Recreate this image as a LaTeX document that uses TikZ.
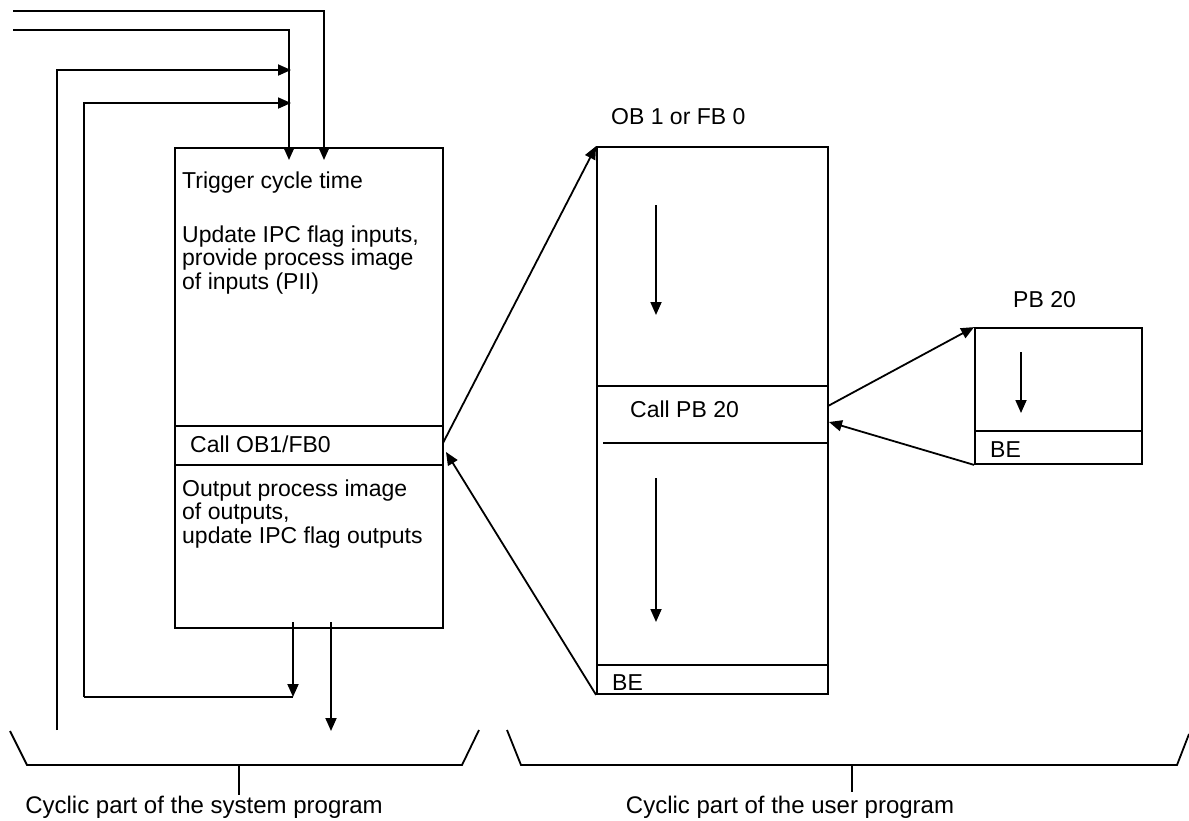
\documentclass[tikz,border=0pt]{standalone}
\usepackage{fontspec}
\setmainfont{Liberation Sans}
\usetikzlibrary{arrows.meta}
\begin{document}
\begin{tikzpicture}[x=1pt,y=-1pt,
  ln/.style={line width=1.8pt},
  arr/.style={line width=1.8pt,-{Triangle[length=13pt,width=11pt]}},
  box/.style={draw,line width=1.8pt,inner sep=0pt,rectangle},
  txt/.style={anchor=base west,inner sep=0pt,font=\fontsize{23}{24}\selectfont},
  lbl/.style={anchor=base,inner sep=0pt,font=\fontsize{24}{25}\selectfont}]
\useasboundingbox (0,0) rectangle (1189,820);

% system program box
\node[box,minimum width=268pt,minimum height=480pt] (sys) at (309,388) {};
\node[box,minimum width=268pt,minimum height=39pt] (call) at (309,445.5) {};
\node[txt] (t1) at (182,188) {Trigger cycle time};
\node[txt] (t2) at (182,242) {Update IPC flag inputs,};
\node[txt] (t3) at (182,265.5) {provide process image};
\node[txt] (t4) at (182,289) {of inputs (PII)};
\node[txt] (t5) at (190,452) {Call OB1/FB0};
\node[txt] (t6) at (182,496) {Output process image};
\node[txt] (t7) at (182,519.5) {of outputs,};
\node[txt] (t8) at (182,543) {update IPC flag outputs};

% user program box OB1
\node[box,minimum width=231pt,minimum height=547pt] (user) at (712.5,420.5) {};
\coordinate (uc1) at (597,386);
\coordinate (uc2) at (828,386);
\coordinate (uc3) at (603,443);
\coordinate (uc4) at (828,443);
\coordinate (ub1) at (597,665);
\coordinate (ub2) at (828,665);
\draw[ln] (uc1) -- (uc2);
\draw[ln] (uc3) -- (uc4);
\draw[ln] (ub1) -- (ub2);
\node[txt] (ob) at (611,124) {OB 1 or FB 0};
\node[txt] (cpb) at (630,417) {Call PB 20};
\node[txt] (be1) at (612,690) {BE};
\coordinate (ua1) at (656,205);
\coordinate (ua2) at (656,315);
\coordinate (ua3) at (656,478);
\coordinate (ua4) at (656,622);
\draw[arr] (ua1) -- (ua2);
\draw[arr] (ua3) -- (ua4);

% PB 20 box
\node[box,minimum width=167pt,minimum height=136pt] (pb) at (1058.5,396) {};
\coordinate (pl1) at (975,431);
\coordinate (pl2) at (1142,431);
\draw[ln] (pl1) -- (pl2);
\node[txt] (pbt) at (1013,307) {PB 20};
\node[txt] (be2) at (990,457) {BE};
\coordinate (pa1) at (1021,352);
\coordinate (pa2) at (1021,413);
\draw[arr] (pa1) -- (pa2);

% calls between blocks
\coordinate (s1) at (443,443);
\coordinate (s2) at (446,452);
\draw[arr] (s1) -- (user.north west);
\draw[arr] (user.south west) -- (s2);
\coordinate (u5) at (828,406);
\coordinate (u6) at (829,422);
\draw[arr] (u5) -- (pb.north west);
\draw[arr] (pb.south west) -- (u6);

% feedback lines (system)
\coordinate (f1) at (13,11);
\coordinate (f1e) at (324,160);
\coordinate (f2) at (13,30);
\coordinate (f2e) at (289,160);
\coordinate (f3) at (57,730);
\coordinate (f3e) at (291,70);
\coordinate (f4) at (84,697);
\coordinate (f4e) at (291,103);
\coordinate (o1) at (293,622);
\coordinate (o1e) at (293,697);
\coordinate (o2) at (331,622);
\coordinate (o2e) at (331,731);
\draw[arr] (f1) -| (f1e);
\draw[arr] (f2) -| (f2e);
\draw[arr] (f3) |- (f3e);
\draw[arr] (f4) |- (f4e);
\draw[ln] (f4) -- (o1e);
\draw[arr] (o1) -- (o1e);
\draw[arr] (o2) -- (o2e);

% braces
\coordinate (b1) at (10,731);
\coordinate (b2) at (27,765);
\coordinate (b3) at (462,765);
\coordinate (b4) at (479,730);
\coordinate (bt1) at (239,765);
\coordinate (bt2) at (239,795);
\draw[ln] (b1) -- (b2) -- (b3) -- (b4);
\draw[ln] (bt1) -- (bt2);
\node[lbl] (lsys) at (204,813) {Cyclic part of the system program};

\coordinate (c1) at (507,730);
\coordinate (c2) at (521,765);
\coordinate (c3) at (1177,765);
\coordinate (c4) at (1189,734);
\coordinate (ct1) at (852,765);
\coordinate (ct2) at (852,792);
\draw[ln] (c1) -- (c2) -- (c3) -- (c4);
\draw[ln] (ct1) -- (ct2);
\node[lbl] (lusr) at (790,813) {Cyclic part of the user program};
\end{tikzpicture}
\end{document}
